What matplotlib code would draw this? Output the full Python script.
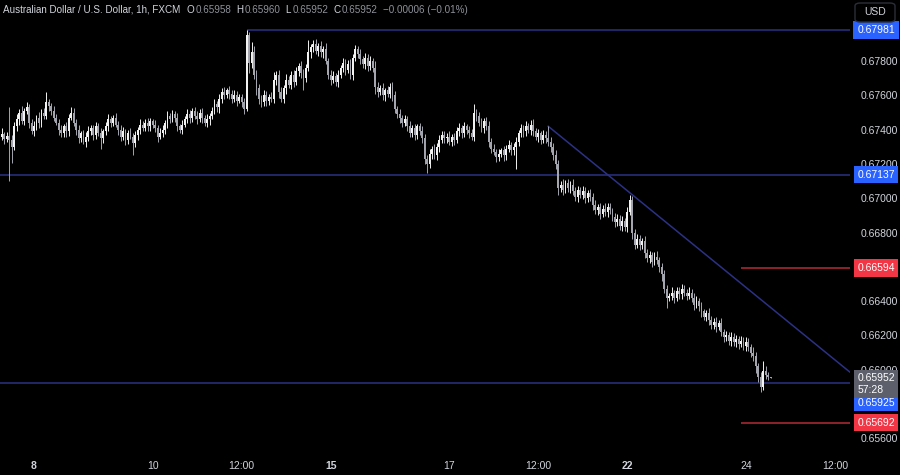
import matplotlib.pyplot as plt
from matplotlib.patches import FancyBboxPatch
import numpy as np
import pandas as pd

# hourly closes in 1e-5 units (open = previous close)
first_open = 67340
closes = [
    67355, 67372, 67348, 67361, 67340, 67300, 67420, 67460, 67500, 67450,
    67510, 67530, 67440, 67390, 67420, 67470, 67440, 67500, 67480, 67560,
    67540, 67510, 67470, 67440, 67400, 67380, 67420, 67390, 67470, 67500,
    67440, 67400, 67350, 67380, 67330, 67360, 67390, 67410, 67370, 67420,
    67380, 67350, 67390, 67420, 67460, 67440, 67470, 67430, 67400, 67360,
    67390, 67340, 67380, 67360, 67320, 67370, 67400, 67430, 67410, 67440,
    67420, 67450, 67430, 67410, 67360, 67380, 67400, 67440, 67480, 67460,
    67490, 67470, 67420, 67400, 67430, 67460, 67490, 67470, 67510, 67480,
    67460, 67500, 67470, 67440, 67460, 67480, 67510, 67550, 67530, 67580,
    67620, 67600, 67630, 67610, 67580, 67600, 67570, 67590, 67560, 67520,
    67950, 67790, 67850, 67720, 67640, 67580, 67560, 67600, 67570, 67590,
    67580, 67690, 67720, 67620, 67580, 67640, 67690, 67660, 67720, 67680,
    67740, 67770, 67730, 67700, 67760, 67850, 67880, 67900, 67860, 67890,
    67850, 67870, 67800, 67720, 67690, 67710, 67680, 67720, 67760, 67790,
    67750, 67780, 67720, 67820, 67870, 67840, 67810, 67780, 67820, 67770,
    67800, 67760, 67650, 67620, 67640, 67600, 67630, 67610, 67650, 67600,
    67520, 67490, 67470, 67440, 67460, 67420, 67380, 67410, 67370, 67420,
    67390, 67350, 67230, 67200, 67260, 67290, 67250, 67300, 67340, 67370,
    67350, 67360, 67330, 67360, 67340, 67390, 67410, 67380, 67420, 67400,
    67380, 67360, 67500, 67480, 67440, 67410, 67450, 67420, 67330, 67290,
    67270, 67240, 67260, 67280, 67250, 67290, 67310, 67280, 67300, 67330,
    67380, 67410, 67390, 67420, 67400, 67430, 67390, 67360, 67380, 67340,
    67370, 67350, 67330, 67300, 67250, 67200, 67060, 67080, 67050, 67090,
    67060, 67080, 67040, 67010, 67050, 67020, 67040, 67000, 67030, 67010,
    66960, 66930, 66950, 66910, 66940, 66920, 66950, 66930, 66890, 66860,
    66880, 66840, 66870, 66830, 66920, 66990, 66800, 66730, 66760, 66730,
    66750, 66680, 66650, 66670, 66630, 66660, 66640, 66600, 66560, 66470,
    66420, 66430, 66450, 66420, 66460, 66440, 66470, 66450, 66430, 66450,
    66420, 66380, 66400, 66370, 66340, 66310, 66330, 66290, 66260, 66280,
    66250, 66270, 66220, 66190, 66200, 66170, 66190, 66160, 66180, 66150,
    66170, 66140, 66160, 66130, 66100, 66080, 66020, 65960, 65900, 65990,
    65970, 65958, 65952,
]
wick_hi = [
    20, 35, 15, 25, 169, 30, 25, 30, 20, 40,
    15, 30, 20, 25, 30, 15, 35, 20, 25, 60,
    20, 15, 30, 20, 25, 30, 15, 25, 20, 30,
    25, 20, 30, 15, 20, 25, 30, 15, 20, 25,
    20, 30, 15, 25, 30, 20, 15, 25, 20, 30,
    25, 15, 20, 30, 20, 25, 15, 30, 20, 25,
    30, 20, 15, 25, 20, 30, 25, 15, 30, 20,
    25, 20, 30, 15, 25, 20, 30, 25, 15, 20,
    30, 20, 25, 15, 30, 20, 25, 30, 20, 25,
    20, 30, 15, 25, 20, 30, 25, 20, 15, 25,
    31, 20, 60, 40, 30, 25, 20, 30, 25, 20,
    30, 45, 20, 25, 30, 20, 35, 25, 20, 30,
    25, 20, 30, 25, 20, 73, 20, 25, 30, 15,
    25, 20, 35, 20, 25, 30, 20, 25, 15, 30,
    20, 25, 30, 20, 25, 15, 30, 20, 25, 20,
    30, 20, 40, 25, 20, 30, 15, 25, 20, 30,
    25, 20, 30, 15, 25, 20, 30, 20, 25, 15,
    20, 30, 25, 20, 30, 15, 25, 20, 30, 20,
    25, 20, 30, 15, 20, 25, 30, 20, 25, 15,
    20, 25, 50, 20, 25, 30, 20, 25, 30, 20,
    25, 20, 30, 15, 25, 20, 30, 20, 25, 30,
    20, 25, 15, 30, 20, 25, 30, 20, 25, 15,
    30, 20, 70, 25, 20, 30, 25, 20, 30, 15,
    25, 20, 30, 25, 20, 15, 30, 25, 20, 25,
    20, 30, 15, 25, 20, 30, 25, 20, 15, 25,
    30, 20, 25, 15, 30, 30, 25, 20, 30, 25,
    20, 30, 25, 20, 15, 25, 30, 20, 25, 20,
    25, 20, 30, 15, 25, 20, 30, 25, 20, 30,
    20, 25, 30, 20, 25, 15, 20, 30, 25, 20,
    25, 20, 30, 15, 25, 20, 30, 25, 20, 15,
    25, 20, 30, 25, 20, 30, 25, 20, 25, 60,
    30, 15, 2,
]
wick_lo = [
    25, 15, 30, 20, 240, 95, 20, 25, 30, 15,
    25, 20, 30, 15, 25, 20, 30, 25, 15, 20,
    30, 25, 20, 15, 30, 25, 20, 30, 25, 15,
    20, 30, 25, 20, 15, 30, 25, 20, 30, 25,
    15, 60, 25, 20, 30, 25, 20, 15, 30, 25,
    20, 30, 25, 15, 70, 20, 30, 25, 20, 15,
    25, 30, 20, 25, 30, 15, 20, 25, 30, 20,
    15, 25, 30, 20, 25, 15, 20, 30, 25, 20,
    25, 15, 30, 20, 25, 30, 15, 20, 25, 30,
    25, 20, 15, 30, 25, 20, 30, 15, 25, 30,
    10, 60, 30, 25, 40, 30, 25, 20, 30, 25,
    20, 25, 30, 35, 20, 25, 30, 20, 25, 30,
    20, 25, 30, 70, 25, 20, 30, 25, 20, 30,
    25, 30, 20, 25, 30, 20, 25, 30, 20, 25,
    30, 20, 25, 30, 20, 25, 30, 20, 25, 30,
    20, 25, 40, 30, 20, 25, 30, 20, 25, 30,
    25, 20, 30, 25, 20, 30, 25, 20, 30, 25,
    20, 30, 30, 50, 25, 30, 20, 25, 30, 20,
    25, 30, 20, 25, 30, 20, 25, 30, 20, 25,
    30, 20, 25, 30, 20, 25, 30, 20, 30, 25,
    20, 30, 25, 20, 30, 25, 20, 30, 25, 130,
    25, 20, 30, 25, 20, 30, 25, 20, 30, 25,
    20, 30, 25, 30, 25, 30, 40, 25, 30, 20,
    25, 30, 20, 25, 30, 20, 25, 30, 20, 25,
    30, 20, 25, 30, 20, 25, 30, 20, 25, 30,
    20, 25, 30, 20, 25, 20, 40, 25, 20, 30,
    25, 30, 20, 25, 30, 20, 25, 30, 40, 25,
    60, 20, 25, 30, 20, 25, 30, 20, 25, 20,
    25, 30, 20, 25, 30, 20, 25, 30, 20, 25,
    30, 20, 25, 30, 20, 25, 30, 20, 25, 30,
    20, 25, 30, 20, 25, 30, 40, 30, 30, 20,
    25, 20, 0,
]

blue_levels = [0.67981, 0.67137, 0.65925]
blue_starts = [100, 0, 0]
red_levels = [0.66594, 0.65692]
red_start = 300
trend_x = [222, 344]
trend_y = [0.67420, 0.65987]
last_price = 0.65952
countdown = '57:28'

price_ticks = [0.656, 0.658, 0.660, 0.662, 0.664, 0.666, 0.668, 0.670,
               0.672, 0.674, 0.676, 0.678]
hidden_ticks = [0.658, 0.666]   # covered by the price tags on the chart

tick_times = ['2024-10-08 00:00', '2024-10-10 00:00', '2024-10-11 12:00',
              '2024-10-15 00:00', '2024-10-17 00:00', '2024-10-18 12:00',
              '2024-10-22 00:00', '2024-10-24 00:00', '2024-10-25 12:00']
tick_labels = ['8', '10', '12:00', '15', '17', '12:00', '22', '24', '12:00']
bold_ticks = ['8', '15', '22']

header_title = 'Australian Dollar / U.S. Dollar, 1h, FXCM'
header_ohlc = [('O', '0.65958'), ('H', '0.65960'), ('L', '0.65952'),
               ('C', '0.65952')]
header_change = '\u22120.00006 (\u22120.01%)'

# trading hours (weekend gap Fri 21:00 -> Sun 21:00)
hours = pd.date_range('2024-10-07 10:00', '2024-10-25 23:00', freq='h')
wd, hr = hours.dayofweek, hours.hour
closed = ((wd == 4) & (hr >= 21)) | (wd == 5) | ((wd == 6) & (hr < 21))
hours = hours[~closed]

BG = '#000000'
TXT = '#d1d4dc'
GREY = '#8f929b'
NAVY = '#2b3185'
RED = '#b52a35'
UP = '#f2f2f2'
DOWN = '#a3a6ae'
plt.rcParams['font.family'] = ['Liberation Sans', 'DejaVu Sans']

c = np.array(closes) / 1e5
o = np.r_[first_open, closes[:-1]] / 1e5
h = np.maximum(o, c) + np.array(wick_hi) / 1e5
l = np.minimum(o, c) - np.array(wick_lo) / 1e5
x = np.arange(len(c))
cols = np.where(c >= o, UP, DOWN)

W, H = 900, 475
fig = plt.figure(figsize=(W / 100, H / 100), dpi=100, facecolor=BG)
ax = fig.add_axes([0, 20 / H, 850 / W, 455 / H], facecolor=BG)
xmax = 344.1
ax.set_xlim(0.24, xmax)
ax.set_ylim(0.65503, 0.68156)

ax.vlines(x, l, h, color=cols, lw=0.7, zorder=3)
ax.bar(x, np.maximum(np.abs(c - o), 0.00002), bottom=np.minimum(o, c),
       width=0.74, color=cols, linewidth=0, zorder=4)

for lev, st in zip(blue_levels, blue_starts):
    ax.hlines(lev, st, xmax + 5, color=NAVY, lw=1.1, zorder=2)
for lev in red_levels:
    ax.hlines(lev, red_start, xmax + 5, color=RED, lw=1.1, zorder=2)
ax.plot(trend_x, trend_y, color=NAVY, lw=1.1, zorder=2)

for s in ax.spines.values():
    s.set_visible(False)

# price axis
ax.yaxis.tick_right()
ax.set_yticks(price_ticks)
ax.set_yticklabels(['' if any(abs(t - hdn) < 1e-9 for hdn in hidden_ticks)
                    else f'{t:.5f}' for t in price_ticks])
ax.tick_params(axis='y', length=0, pad=8, labelsize=7.5, labelcolor=TXT)

# time axis
xt = [hours.get_loc(pd.Timestamp(t)) for t in tick_times]
ax.set_xticks(xt)
ax.set_xticklabels(tick_labels)
ax.tick_params(axis='x', length=0, pad=4, labelsize=7.5, labelcolor=TXT)
for lab in ax.get_xticklabels():
    if lab.get_text() in bold_ticks:
        lab.set_fontweight('bold')


def tag(price, text, fc, dy=0):
    ax.annotate(text, xy=(1, price), xycoords=ax.get_yaxis_transform(),
                xytext=(26, dy), textcoords='offset pixels',
                ha='center', va='center', ma='left', fontsize=7.5,
                color='white', linespacing=1.15,
                bbox=dict(boxstyle='square,pad=0.35', fc=fc, ec='none'),
                annotation_clip=False, zorder=10)


tag(blue_levels[0], '0.67981', '#2962ff')
tag(blue_levels[1], '0.67137', '#2962ff')
tag(red_levels[0], '0.66594', '#f23645')
tag(red_levels[1], '0.65692', '#f23645')
tag(blue_levels[2], '0.65925', '#2962ff', dy=-20)
tag(last_price, f'{last_price:.5f}\n{countdown}', '#5d606b', dy=-6)

# header, pieces chained one after another
renderer = fig.canvas.get_renderer()
hy = 1 - 10 / H
fs = 7.1


def put(px, s, col, gap):
    t = fig.text(px / W, hy, s, color=col, fontsize=fs, va='center')
    return t.get_window_extent(renderer).x1 + gap


px = put(3, header_title, TXT, 6)
for letter, val in header_ohlc:
    px = put(px, letter, TXT, 1.5)
    px = put(px, val, GREY, 5)
put(px, header_change, GREY, 0)

# currency box
fig.patches.append(FancyBboxPatch((855 / W, 1 - 22 / H), 40 / W, 19 / H,
                                  boxstyle='round,pad=0,rounding_size=0.006',
                                  transform=fig.transFigure, fc=BG,
                                  ec='#2a2e39', lw=1))
fig.text(875 / W, 1 - 12 / H, 'USD', color=TXT, fontsize=7.5,
         ha='center', va='center')

plt.savefig('out.png', dpi=100, facecolor=BG)
